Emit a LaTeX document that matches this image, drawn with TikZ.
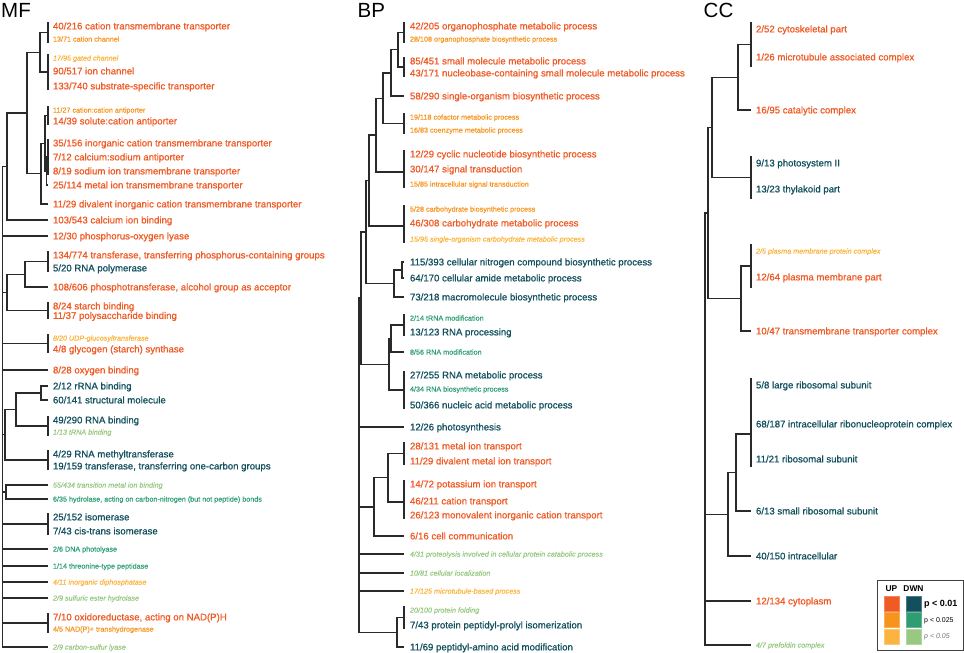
\documentclass[tikz,border=0pt]{standalone}
\usepackage{fontspec}
\setmainfont{Liberation Sans}
\newfontfamily\medfont[FakeBold=0.9]{Liberation Sans}
\newfontfamily\smfont[FakeBold=0.4]{Liberation Sans}
\definecolor{upA}{HTML}{F05A24}
\definecolor{upB}{HTML}{F7941D}
\definecolor{upC}{HTML}{FBB440}
\definecolor{dnA}{HTML}{12505E}
\definecolor{dnB}{HTML}{2E9E72}
\definecolor{dnC}{HTML}{98C882}
\definecolor{treec}{HTML}{2A2A2A}
\newcommand\br[5]{\draw[tree] (#3,#2) -| (#1,#4) -- (#5,#4);}
\newcommand\lbar[3]{\draw[tree] (#1,#2) -- (#1,#3);}
\newcommand\hl[3]{\draw[tree] (#1,#3) -- (#2,#3);}
\newcommand\lf[5]{\node[#4] (#1) at (#2,#3) {#5};}
\begin{document}
\begin{tikzpicture}[x=1pt,y=-1pt,
  tree/.style={draw=treec,line width=1.35pt},
  lbl/.style={anchor=base west,inner sep=0pt,outer sep=0pt},
  big/.style={lbl,font=\medfont\fontsize{9.62}{11}\selectfont,yshift=-3.4pt},
  sml/.style={lbl,font=\smfont\fontsize{7.2}{8}\selectfont,yshift=-2.6pt},
  ism/.style={lbl,font=\smfont\fontsize{7.2}{8}\selectfont\itshape,yshift=-2.6pt},
  pua/.style={big,text=upA},
  pub/.style={sml,text=upB},
  puc/.style={ism,text=upC},
  pda/.style={big,text=dnA},
  pdb/.style={sml,text=dnB},
  pdc/.style={ism,text=dnC},
  ttl/.style={anchor=base west,inner sep=0pt,font=\fontsize{20.5}{22}\selectfont},
  sq/.style={minimum width=15pt,minimum height=15pt,inner sep=0pt,line width=0.8pt}
]
\useasboundingbox (0,0) rectangle (964,653);
% titles
\node[ttl] (tmf) at (1,17.3) {MF};
\node[ttl] (tbp) at (357.5,17.3) {BP};
\node[ttl] (tcc) at (703.5,17.3) {CC};

% ================= MF tree =================
\lbar{48}{22}{43}
\lbar{48}{54}{90}
\lbar{48}{106}{125}
\lbar{48}{139}{175}
\br{46.5}{157}{48}{185}{48}
\br{45}{115.5}{48}{171}{46.5}
\br{41}{143.25}{45}{204}{48}
\br{40}{32.5}{48}{72}{48}
\br{27}{52.25}{40}{173.6}{41}
\br{7}{112.9}{27}{220}{48}
\lbar{48}{251}{272}
\br{25}{261.5}{48}{287}{48}
\lbar{48}{302}{319}
\br{7}{274.25}{25}{310.5}{48}
\lbar{48}{334}{353}
\br{41}{386}{48}{400}{48}
\lbar{48}{416}{436}
\br{16}{393}{41}{426}{48}
\lbar{48}{450}{470}
\br{5}{409.5}{16}{460}{48}
\br{6}{485}{48}{499}{48}
\lbar{48}{513}{535}
\lbar{48}{613}{633}
\draw[tree] (7,166.5) -| (2.5,647) -- (48,647);
\hl{2.5}{48}{236}
\hl{2.5}{7}{292.4}
\hl{2.5}{48}{343.5}
\hl{2.5}{48}{370}
\hl{2.5}{5}{434.75}
\hl{2.5}{6}{492}
\hl{2.5}{48}{524}
\hl{2.5}{48}{549}
\hl{2.5}{48}{566}
\hl{2.5}{48}{582}
\hl{2.5}{48}{598}
\hl{2.5}{48}{623}

% MF labels
\lf{m1}{53}{26}{pua}{40/216 cation transmembrane transporter}
\lf{m2}{53}{39}{pub}{13/71 cation channel}
\lf{m3}{53}{58}{puc}{17/95 gated channel}
\lf{m4}{53}{71}{pua}{90/517 ion channel}
\lf{m5}{53}{86}{pua}{133/740 substrate-specific transporter}
\lf{m6}{53}{110}{pub}{11/27 cation:cation antiporter}
\lf{m7}{53}{121}{pua}{14/39 solute:cation antiporter}
\lf{m8}{53}{143}{pua}{35/156 inorganic cation transmembrane transporter}
\lf{m9}{53}{157}{pua}{7/12 calcium:sodium antiporter}
\lf{m10}{53}{171}{pua}{8/19 sodium ion transmembrane transporter}
\lf{m11}{53}{185}{pua}{25/114 metal ion transmembrane transporter}
\lf{m12}{53}{204}{pua}{11/29 divalent inorganic cation transmembrane transporter}
\lf{m13}{53}{220}{pua}{103/543 calcium ion binding}
\lf{m14}{53}{236}{pua}{12/30 phosphorus-oxygen lyase}
\lf{m15}{53}{255}{pua}{134/774 transferase, transferring phosphorus-containing groups}
\lf{m16}{53}{268}{pda}{5/20 RNA polymerase}
\lf{m17}{53}{287}{pua}{108/606 phosphotransferase, alcohol group as acceptor}
\lf{m18}{53}{306}{pua}{8/24 starch binding}
\lf{m19}{53}{315.5}{pua}{11/37 polysaccharide binding}
\lf{m20}{53}{338}{puc}{8/20 UDP-glucosyltransferase}
\lf{m21}{53}{349}{pua}{4/8 glycogen (starch) synthase}
\lf{m22}{53}{370}{pua}{8/28 oxygen binding}
\lf{m23}{53}{386}{pda}{2/12 rRNA binding}
\lf{m24}{53}{400}{pda}{60/141 structural molecule}
\lf{m25}{53}{420}{pda}{49/290 RNA binding}
\lf{m26}{53}{432}{pdc}{1/13 tRNA binding}
\lf{m27}{53}{454}{pda}{4/29 RNA methyltransferase}
\lf{m28}{53}{466}{pda}{19/159 transferase, transferring one-carbon groups}
\lf{m29}{53}{485}{pdc}{55/434 transition metal ion binding}
\lf{m30}{53}{499}{pdb}{6/35 hydrolase, acting on carbon-nitrogen (but not peptide) bonds}
\lf{m31}{53}{517}{pda}{25/152 isomerase}
\lf{m32}{53}{531}{pda}{7/43 cis-trans isomerase}
\lf{m33}{53}{549}{pdb}{2/6 DNA photolyase}
\lf{m34}{53}{566}{pdb}{1/14 threonine-type peptidase}
\lf{m35}{53}{582}{puc}{4/11 inorganic diphosphatase}
\lf{m36}{53}{598}{pdc}{2/9 sulfuric ester hydrolase}
\lf{m37}{53}{617}{pua}{7/10 oxidoreductase, acting on NAD(P)H}
\lf{m38}{53}{629}{pub}{4/5 NAD(P)+ transhydrogenase}
\lf{m39}{53}{647}{pdc}{2/9 carbon-sulfur lyase}

% ================= BP tree =================
\lbar{404}{22}{43}
\lbar{404}{57}{77}
\br{398}{32.5}{404}{67}{404}
\br{391}{49.75}{398}{96}{404}
\lbar{404}{113}{134}
\br{383}{72.9}{391}{123.5}{404}
\lbar{404}{150}{188}
\br{376}{98.2}{383}{172}{404}
\lbar{404}{205}{243}
\br{369}{135.1}{376}{226}{404}
\br{402}{262}{404}{278}{404}
\br{394}{270}{402}{297}{404}
\br{366}{180.5}{369}{283.5}{394}
\lbar{404}{314}{336}
\br{391}{325}{404}{352}{404}
\lbar{404}{371}{409}
\br{389}{338.5}{391}{390}{404}
\br{361}{232}{366}{364.25}{389}
\lbar{404}{442}{465}
\lbar{404}{480}{519}
\br{388}{453.5}{404}{502}{404}
\br{374}{477.75}{388}{536}{404}
\lbar{404}{606}{629}
\br{397}{617.5}{404}{647}{404}
\draw[tree] (361,298.1) -| (359,632.25) -- (397,632.25);
\hl{359}{404}{427}
\hl{359}{374}{506.9}
\hl{359}{404}{554}
\hl{359}{404}{573}
\hl{359}{404}{591}

% BP labels
\lf{b1}{410}{26}{pua}{42/205 organophosphate metabolic process}
\lf{b2}{410}{39}{pub}{28/108 organophosphate biosynthetic process}
\lf{b3}{410}{61}{pua}{85/451 small molecule metabolic process}
\lf{b4}{410}{73}{pua}{43/171 nucleobase-containing small molecule metabolic process}
\lf{b5}{410}{96}{pua}{58/290 single-organism biosynthetic process}
\lf{b6}{410}{117}{pub}{19/118 cofactor metabolic process}
\lf{b7}{410}{130}{pub}{16/83 coenzyme metabolic process}
\lf{b8}{410}{154}{pua}{12/29 cyclic nucleotide biosynthetic process}
\lf{b9}{410}{169}{pua}{30/147 signal transduction}
\lf{b10}{410}{184}{pub}{15/85 intracellular signal transduction}
\lf{b11}{410}{209}{pub}{5/28 carbohydrate biosynthetic process}
\lf{b12}{410}{223}{pua}{46/308 carbohydrate metabolic process}
\lf{b13}{410}{239}{puc}{15/95 single-organism carbohydrate metabolic process}
\lf{b14}{410}{262}{pda}{115/393 cellular nitrogen compound biosynthetic process}
\lf{b15}{410}{278}{pda}{64/170 cellular amide metabolic process}
\lf{b16}{410}{297}{pda}{73/218 macromolecule biosynthetic process}
\lf{b17}{410}{318}{pdb}{2/14 tRNA modification}
\lf{b18}{410}{332}{pda}{13/123 RNA processing}
\lf{b19}{410}{352}{pdb}{8/56 RNA modification}
\lf{b20}{410}{375}{pda}{27/255 RNA metabolic process}
\lf{b21}{410}{389}{pdb}{4/34 RNA biosynthetic process}
\lf{b22}{410}{405}{pda}{50/366 nucleic acid metabolic process}
\lf{b23}{410}{427}{pda}{12/26 photosynthesis}
\lf{b24}{410}{446}{pua}{28/131 metal ion transport}
\lf{b25}{410}{461}{pua}{11/29 divalent metal ion transport}
\lf{b26}{410}{484}{pua}{14/72 potassium ion transport}
\lf{b27}{410}{501}{pua}{46/211 cation transport}
\lf{b28}{410}{515}{pua}{26/123 monovalent inorganic cation transport}
\lf{b29}{410}{536}{pua}{6/16 cell communication}
\lf{b30}{410}{554}{pdc}{4/31 proteolysis involved in cellular protein catabolic process}
\lf{b31}{410}{573}{pdc}{10/81 cellular localization}
\lf{b32}{410}{591}{puc}{17/125 microtubule-based process}
\lf{b33}{410}{610}{pdc}{20/100 protein folding}
\lf{b34}{410}{625}{pda}{7/43 protein peptidyl-prolyl isomerization}
\lf{b35}{410}{647}{pda}{11/69 peptidyl-amino acid modification}

% ================= CC tree =================
\lbar{751}{22}{67}
\br{738}{44.5}{751}{110}{751}
\lbar{751}{156}{199}
\br{712}{77.25}{738}{177.5}{751}
\lbar{751}{244}{288}
\br{741}{266}{751}{331}{751}
\br{708}{127.4}{712}{298.5}{741}
\lbar{751}{378}{467}
\br{736}{434}{751}{511}{751}
\br{728}{472.5}{736}{556}{751}
\draw[tree] (708,213) -| (705,645) -- (751,645);
\hl{705}{728}{514.25}
\hl{705}{751}{601}

% CC labels
\lf{c1}{756}{29}{pua}{2/52 cytoskeletal part}
\lf{c2}{756}{57}{pua}{1/26 microtubule associated complex}
\lf{c3}{756}{110}{pua}{16/95 catalytic complex}
\lf{c4}{756}{163}{pda}{9/13 photosystem II}
\lf{c5}{756}{189}{pda}{13/23 thylakoid part}
\lf{c6}{756}{251}{puc}{2/5 plasma membrane protein complex}
\lf{c7}{756}{277}{pua}{12/64 plasma membrane part}
\lf{c8}{756}{331}{pua}{10/47 transmembrane transporter complex}
\lf{c9}{756}{385}{pda}{5/8 large ribosomal subunit}
\lf{c10}{756}{424}{pda}{68/187 intracellular ribonucleoprotein complex}
\lf{c11}{756}{459}{pda}{11/21 ribosomal subunit}
\lf{c12}{756}{511}{pda}{6/13 small ribosomal subunit}
\lf{c13}{756}{556}{pda}{40/150 intracellular}
\lf{c14}{756}{601}{pua}{12/134 cytoplasm}
\lf{c15}{756}{645}{pdc}{4/7 prefoldin complex}

% ================= legend =================
\node[draw=black!75,line width=1.2pt,minimum width=86pt,minimum height=70pt,inner sep=0pt,anchor=north west] (leg) at (876.5,580) {};
\node[anchor=base,inner sep=0pt,font=\fontsize{8.4}{9}\selectfont\bfseries] (lup) at (891.5,591.7) {UP};
\node[anchor=base,inner sep=0pt,font=\fontsize{8.4}{9}\selectfont\bfseries] (ldn) at (913.5,591.7) {DWN};
\node[sq,fill=upA,draw=upA!75!white] (s1) at (891.5,603.5) {};
\node[sq,fill=upB,draw=upB!75!white] (s2) at (891.5,620) {};
\node[sq,fill=upC,draw=upC!75!white] (s3) at (891.5,636.5) {};
\node[sq,fill=dnA,draw=dnA!75!white] (s4) at (913.5,603.5) {};
\node[sq,fill=dnB,draw=dnB!75!white] (s5) at (913.5,620) {};
\node[sq,fill=dnC,draw=dnC!75!white] (s6) at (913.5,636.5) {};
\node[anchor=base west,inner sep=0pt,font=\fontsize{9}{10}\selectfont\bfseries] (p1) at (924,606.5) {p < 0.01};
\node[anchor=base west,inner sep=0pt,font=\fontsize{7}{8}\selectfont] (p2) at (924,622) {p < 0.025};
\node[anchor=base west,inner sep=0pt,font=\fontsize{7}{8}\selectfont\itshape,text=black!55] (p3) at (924,638.5) {p < 0.05};
\end{tikzpicture}
\end{document}
